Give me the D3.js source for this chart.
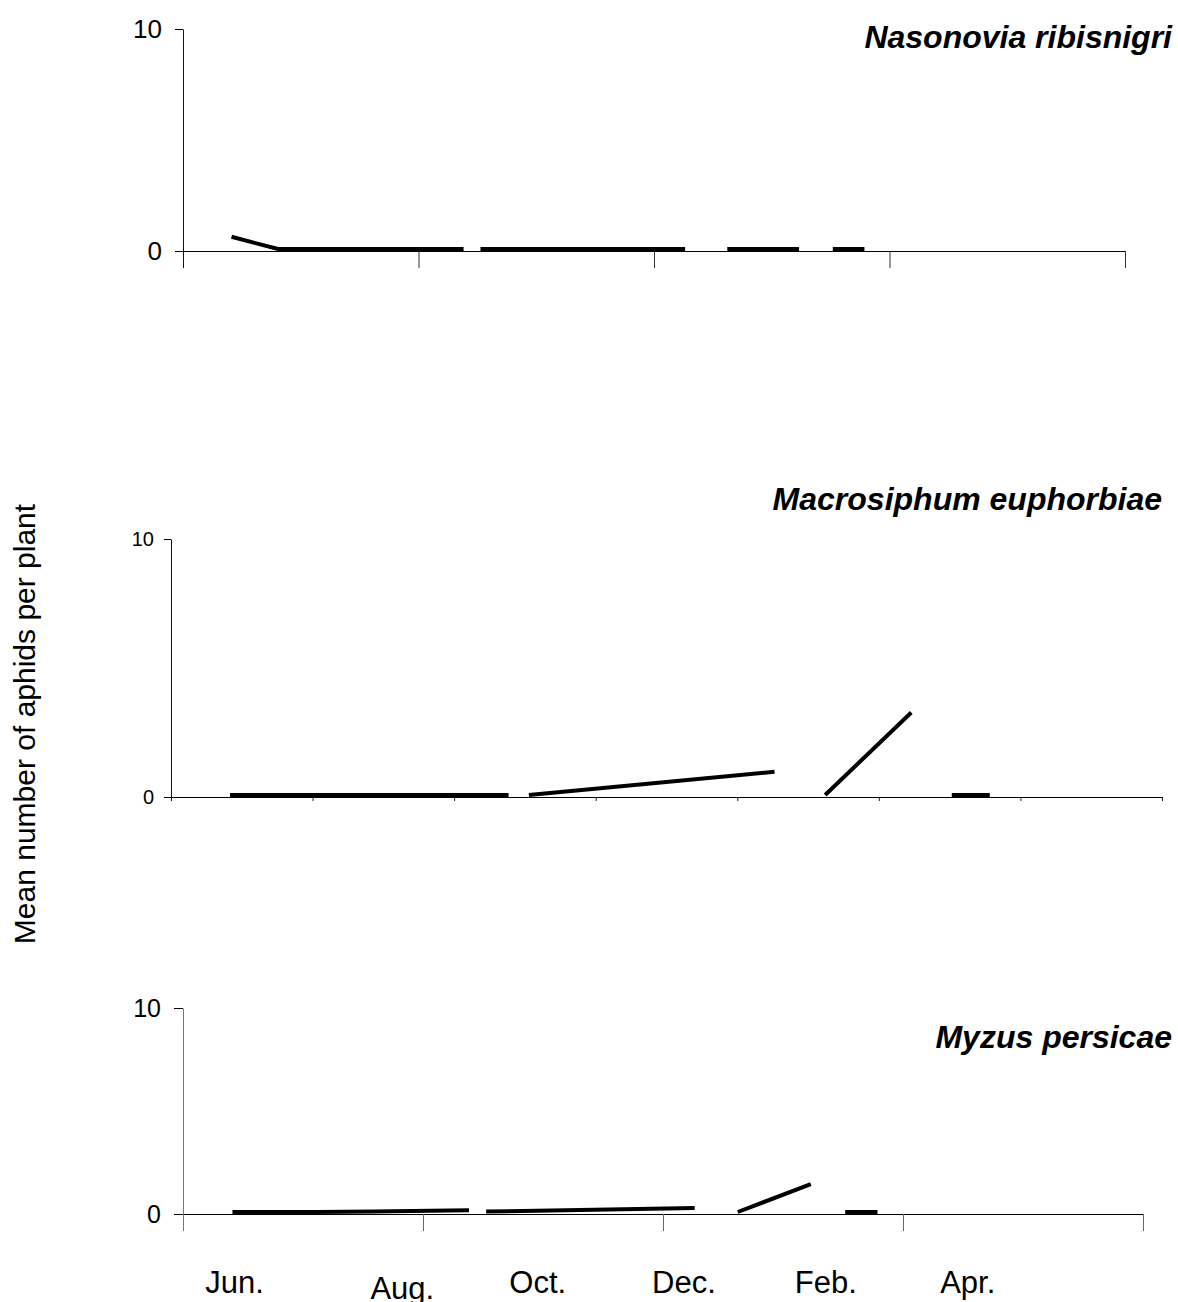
<!DOCTYPE html>
<html>
<head>
<meta charset="utf-8">
<script src="https://cdnjs.cloudflare.com/ajax/libs/d3/7.8.5/d3.min.js"></script>
<style>
body { margin: 0; background: #fff; }
text { font-family: Arial, "Liberation Sans", sans-serif; }
</style>
</head>
<body>
<svg width="1178" height="1302"></svg>
<script>
// sampling days (days after the first count); null = missed count -> gap in the line
var sampleDays  = [0, 22, 31, 39, 66, 110, 114, 118, 215, 225, 235, 269, 277, 285, 300];
var nasonovia   = [0.55, 0, 0, 0, 0, 0, null, 0, 0, null, 0, 0, null, 0, 0];
var macrosiphum = [0, 0, 0, 0, 0, 0, null, 0, 0.9, null, 0, 3.2, null, 0, 0];
var myzus       = [0, 0, 0, 0, 0.02, 0.08, null, 0.02, 0.2, null, 0, 1.35, null, 0, 0];

var species = ["Nasonovia ribisnigri", "Macrosiphum euphorbiae", "Myzus persicae"];
var yTicks = [0, 10];
var monthLabels = ["Jun.", "Aug.", "Oct.", "Dec.", "Feb.", "Apr."];
var monthDays = [1, 79, 142, 210, 276, 342];

var svg = d3.select("svg"),
    width = +svg.attr("width"),
    height = +svg.attr("height");

svg.append("rect")
    .attr("width", width)
    .attr("height", height)
    .attr("fill", "#fff");

// each chart was its own little excel plot, so each gets its own frame
var panels = [
    { title: species[0], values: nasonovia, left: 183, right: 1125, top: 29, bottom: 251,
      xDomain: [-23, 423.5], xSteps: 4, xTick: 17, yTick: 8, labelSize: 26, pad: 13,
      titleX: 1172, titleY: 48, axisColor: "#333", yColor: "#111" },
    { title: species[1], values: macrosiphum, left: 171, right: 1162, top: 539, bottom: 797,
      xDomain: [-23.3, 368], xSteps: 7, xTick: 4, yTick: 7, labelSize: 20, pad: 10,
      titleX: 1162, titleY: 510, axisColor: "#222", yColor: "#111" },
    { title: species[2], values: myzus, left: 183, right: 1143, top: 1008, bottom: 1214,
      xDomain: [-23, 423.5], xSteps: 4, xTick: 17, yTick: 9, labelSize: 25, pad: 13,
      titleX: 1172, titleY: 1048, axisColor: "#666", yColor: "#777" }
];

var lastX;

panels.forEach(function(p) {
    var x = d3.scaleLinear().domain(p.xDomain).range([p.left, p.right]),
        y = d3.scaleLinear().domain([0, 10]).range([p.bottom, p.top]);
    lastX = x;

    var g = svg.append("g");

    var step = (p.xDomain[1] - p.xDomain[0]) / p.xSteps;
    var xAxis = d3.axisBottom(x)
        .tickValues(d3.range(p.xSteps + 1).map(function(i) { return p.xDomain[0] + i * step; }))
        .tickSize(p.xTick)
        .tickSizeOuter(0)
        .tickFormat("");

    var gx = g.append("g")
        .attr("transform", "translate(0," + p.bottom + ")")
        .call(xAxis);
    gx.selectAll(".tick line").attr("stroke", p.axisColor);
    gx.select(".domain").attr("stroke", "#000");
    gx.select(".tick line").attr("stroke", p.yColor);

    var yAxis = d3.axisLeft(y)
        .tickValues(yTicks)
        .tickSize(p.yTick)
        .tickSizeOuter(0)
        .tickPadding(p.pad);

    var gy = g.append("g")
        .attr("transform", "translate(" + p.left + ",0)")
        .attr("font-family", null)
        .call(yAxis);
    gy.attr("font-size", p.labelSize);
    gy.select(".domain").attr("stroke", p.yColor);
    gy.selectAll(".tick line").attr("stroke", "#000");
    gy.selectAll("text").attr("fill", "#000");

    var line = d3.line()
        .defined(function(d) { return d.v !== null; })
        .x(function(d) { return x(d.day); })
        .y(function(d) { return y(d.v); });

    var pts = sampleDays.map(function(day, i) { return { day: day, v: p.values[i] }; });

    // excel sits the thick series line just on top of the axis
    g.append("path")
        .datum(pts)
        .attr("d", line)
        .attr("fill", "none")
        .attr("stroke", "#000")
        .attr("stroke-width", 4)
        .attr("transform", "translate(0,-2)");

    g.append("text")
        .attr("x", p.titleX)
        .attr("y", p.titleY)
        .attr("text-anchor", "end")
        .attr("font-size", 32)
        .attr("font-weight", "bold")
        .attr("font-style", "italic")
        .text(p.title);
});

// month text boxes under the bottom chart (Aug. box sits a bit lower)
svg.append("g")
    .selectAll("text")
    .data(monthLabels)
    .enter().append("text")
    .attr("x", function(d, i) { return lastX(monthDays[i]); })
    .attr("y", function(d, i) { return i === 1 ? 1299 : 1293; })
    .attr("text-anchor", "middle")
    .attr("font-size", 31)
    .text(function(d) { return d; });

svg.append("text")
    .attr("transform", "translate(35,724) rotate(-90)")
    .attr("text-anchor", "middle")
    .attr("font-size", 30)
    .text("Mean number of aphids per plant");
</script>
</body>
</html>
